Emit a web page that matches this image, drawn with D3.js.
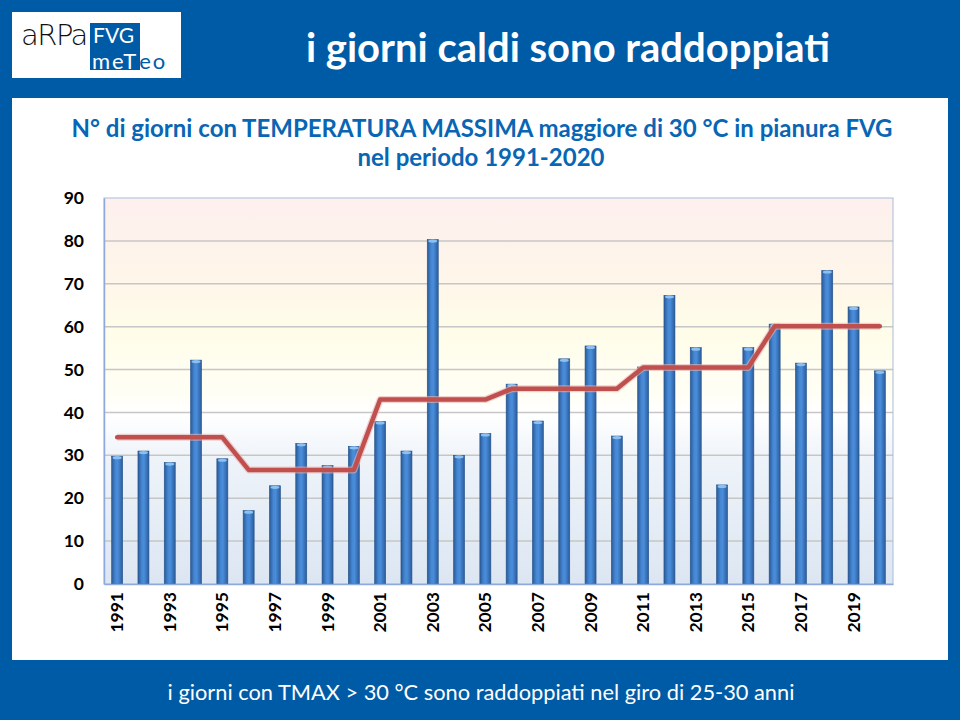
<!DOCTYPE html>
<html><head><meta charset="utf-8">
<script src="https://cdn.jsdelivr.net/npm/d3@7"></script>
<style>body{margin:0;background:#005ba6;}svg{display:block;}</style>
</head><body>
<svg id="c" width="960" height="720"></svg>
<script>
const years = d3.range(1991, 2021);
const hotDays = [29.8, 31, 28.3, 52.2, 29.2, 17.1, 22.9, 32.8, 27.6, 32.1,
                 37.9, 31, 80.3, 30, 35.1, 46.6, 38, 52.5, 55.5, 34.5,
                 50.6, 67.3, 55.1, 23.1, 55.1, 60.6, 51.5, 73.1, 64.6, 49.7];
const periodMean = [34.2, 34.2, 34.2, 34.2, 34.2, 26.6, 26.6, 26.6, 26.6, 26.6,
                    43.0, 43.0, 43.0, 43.0, 43.0, 45.5, 45.5, 45.5, 45.5, 45.5,
                    50.5, 50.5, 50.5, 50.5, 50.5, 60.1, 60.1, 60.1, 60.1, 60.1];
const yTicks = [0, 10, 20, 30, 40, 50, 60, 70, 80, 90];
const xTickLabels = years.filter(y => y % 2 === 1);

const svg = d3.select("#c");
const font = "Lato, 'Open Sans', sans-serif";
const defs = svg.append("defs");

// header
svg.append("rect").attr("x",0).attr("y",0).attr("width",960).attr("height",720).attr("fill","#005ba6");
svg.append("rect").attr("x",12).attr("y",12).attr("width",169).attr("height",66).attr("fill","#fff");
svg.append("text").attr("x",21).attr("y",45).attr("font-family","'DejaVu Sans', sans-serif")
  .attr("font-size",29).attr("font-weight",300).attr("fill","#111").attr("letter-spacing",-1.5).text("aRPa");
const logoBox = svg.append("rect").attr("x",90).attr("y",23).attr("height",47).attr("fill","#005ba6");
svg.append("text").attr("x",93).attr("y",43).attr("font-family",font).attr("font-size",21).attr("fill","#fff").text("FVG");
const me = svg.append("text").attr("x",92).attr("y",69).attr("font-family",font).attr("font-size",22)
  .attr("fill","#fff").attr("letter-spacing",2).text("meT");
const meW = me.node().getComputedTextLength();
logoBox.attr("width", Math.max(50, meW + 2));
svg.append("text").attr("x",92 + meW + 1).attr("y",69).attr("font-family",font).attr("font-size",22)
  .attr("fill","#005ba6").attr("letter-spacing",2).text("eo");
svg.append("text").attr("x",568).attr("y",62).attr("text-anchor","middle").attr("font-family",font)
  .attr("font-size",40).attr("font-weight",700).attr("fill","#fff").text("i giorni caldi sono raddoppiati");

// white panel
svg.append("rect").attr("x",12).attr("y",98).attr("width",936).attr("height",562).attr("fill","#fff");

svg.append("text").attr("x",482).attr("y",137).attr("text-anchor","middle").attr("font-family",font)
  .attr("font-size",24).attr("font-weight",700).attr("fill","#0866b4")
  .text("N° di giorni con TEMPERATURA MASSIMA maggiore di 30 °C in pianura FVG");
svg.append("text").attr("x",481).attr("y",166).attr("text-anchor","middle").attr("font-family",font)
  .attr("font-size",24).attr("font-weight",700).attr("fill","#0866b4").text("nel periodo 1991-2020");

svg.append("text").attr("x",481).attr("y",700).attr("text-anchor","middle").attr("font-family",font)
  .attr("font-size",21.8).attr("fill","#fff")
  .text("i giorni con TMAX > 30 °C sono raddoppiati nel giro di 25-30 anni");

// plot
const L = 104, R = 893, T = 198, B = 584;
const x = d3.scaleBand().domain(years).range([L, R]).padding(0);
const y = d3.scaleLinear().domain([0, 90]).range([B, T]);

const bg = defs.append("linearGradient").attr("id","bg").attr("x1",0).attr("y1",0).attr("x2",0).attr("y2",1);
[[0,"#fdf0ee"],[0.2,"#fef5ea"],[0.35,"#fffde9"],[0.5,"#fffef4"],[0.56,"#ffffff"],[0.68,"#eef3f9"],[1,"#dce6f2"]]
  .forEach(([o,c]) => bg.append("stop").attr("offset",o).attr("stop-color",c));
svg.append("rect").attr("x",L).attr("y",T).attr("width",R-L).attr("height",B-T).attr("fill","url(#bg)");

svg.append("g").selectAll("line").data(yTicks.filter(t => t>0 && t<90)).join("line")
  .attr("x1",L).attr("x2",R).attr("y1",d=>y(d)).attr("y2",d=>y(d))
  .attr("stroke","#c6c6c6").attr("stroke-width",1.5);

svg.append("rect").attr("x",L).attr("y",T).attr("width",R-L).attr("height",B-T)
  .attr("fill","none").attr("stroke","#a9bcd9").attr("stroke-width",1);

// bars
const bgH = defs.append("linearGradient").attr("id","barG").attr("x1",0).attr("y1",0).attr("x2",1).attr("y2",0);
[[0,"#2a5a96"],[0.35,"#4587d3"],[0.55,"#4a8ddb"],[1,"#2b5c9b"]]
  .forEach(([o,c]) => bgH.append("stop").attr("offset",o).attr("stop-color",c));
const bw = 11;
const bars = svg.append("g");
bars.selectAll("rect").data(hotDays).join("rect")
  .attr("x",(d,i)=>x(years[i]) + x.bandwidth()/2 - bw/2).attr("y",d=>y(d))
  .attr("width",bw).attr("height",d=>B-y(d))
  .attr("fill","url(#barG)").attr("stroke","#24528c").attr("stroke-width",0.6);
bars.selectAll("ellipse").data(hotDays).join("ellipse")
  .attr("cx",(d,i)=>x(years[i]) + x.bandwidth()/2).attr("cy",d=>y(d)+1.5)
  .attr("rx",bw/2-1).attr("ry",1.6).attr("fill","#8cc0f0");

// axes
const yAxis = svg.append("g").attr("transform",`translate(${L},0)`)
  .call(d3.axisLeft(y).tickValues(yTicks).tickSize(0).tickPadding(20));
yAxis.select(".domain").attr("stroke","#8eaadb").attr("stroke-width",1.5);
yAxis.selectAll("text").attr("font-family",font).attr("font-size",17.5).attr("font-weight",700).attr("fill","#000");

const xAxis = svg.append("g").attr("transform",`translate(0,${B})`)
  .call(d3.axisBottom(x).tickValues(xTickLabels).tickSize(0).tickFormat(d3.format("d")));
xAxis.select(".domain").attr("stroke","#8eaadb").attr("stroke-width",1.5);
xAxis.selectAll("text").attr("font-family",font).attr("font-size",17.5).attr("font-weight",700).attr("fill","#000")
  .attr("transform","rotate(-90)").attr("text-anchor","end").attr("x",-8).attr("y",0).attr("dy","0.35em");

// line
const line = d3.line().x((d,i)=>x(years[i]) + x.bandwidth()/2).y(d=>y(d));
svg.append("path").datum(periodMean).attr("d",line).attr("fill","none")
  .attr("stroke","#e8b4b2").attr("stroke-width",7).attr("stroke-linejoin","round").attr("opacity",0.6);
svg.append("path").datum(periodMean).attr("d",line).attr("fill","none")
  .attr("stroke","#c0504d").attr("stroke-width",4.5).attr("stroke-linejoin","round").attr("stroke-linecap","round");
</script>
</body></html>
